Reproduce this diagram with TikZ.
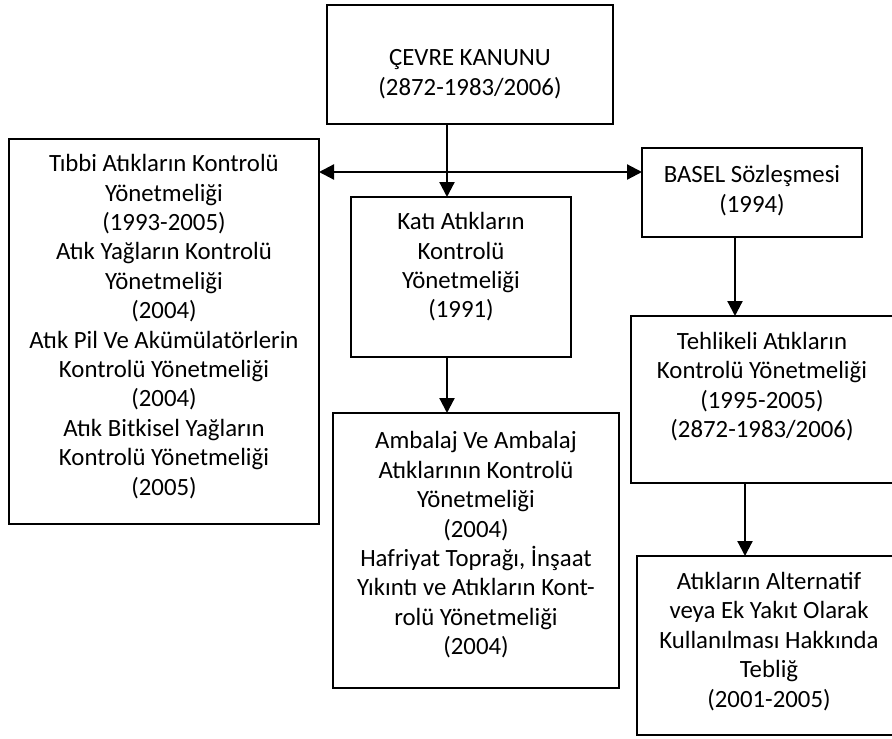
\documentclass[tikz,border=0pt]{standalone}
\usepackage{fontspec}
\setmainfont{Carlito}
\usetikzlibrary{arrows.meta, positioning}

\begin{document}
\begin{tikzpicture}[x=1pt, y=-1pt,
            % Style for the frames round each regulation
            box/.style={draw, line width=2pt, inner sep=0, outer sep=0},
            % Style for the texts inside the frames
            info/.style={font=\fontsize{24.8}{29.4}\selectfont, align=center, inner sep=0},
            % Style for the connectors
            >={Triangle[length=15pt, width=15pt]},
            arrow/.style={line width=2.2pt, ->}
        ]

        \useasboundingbox (0,0) rectangle (892,739);

        % --- The frames: name/centre x/centre y/width/height ---
        \foreach \name/\cx/\cy/\w/\h in {cevre/470/64.5/286/119, tibbi/164/331.5/310/385,
                kati/461/277/220/160, basel/752/192.5/220/89, tehlikeli/762/399.5/262/167,
                ambalaj/476/550.5/286/275, atik/769/645.5/264/179} {
            \node[box, minimum width=\w pt, minimum height=\h pt] (\name) at (\cx, \cy) {};
        }

        % --- The texts, placed on the frames ---
        \node[info] (cevre-txt) at (470, 74) {ÇEVRE KANUNU\\(2872-1983/2006)};
        \node[info] (tibbi-txt) at (164, 326.5) {Tıbbi Atıkların Kontrolü\\Yönetmeliği\\(1993-2005)\\
            Atık Yağların Kontrolü\\Yönetmeliği\\(2004)\\Atık Pil Ve Akümülatörlerin\\
            Kontrolü Yönetmeliği\\(2004)\\Atık Bitkisel Yağların\\Kontrolü Yönetmeliği\\(2005)};
        \node[info] (kati-txt) at (461, 267) {Katı Atıkların\\Kontrolü\\Yönetmeliği\\(1991)};
        \node[info] (basel-txt) at (752, 190.5) {BASEL Sözleşmesi\\(1994)};
        \node[info] (tehlikeli-txt) at (762, 386.5) {Tehlikeli Atıkların\\Kontrolü Yönetmeliği\\
            (1995-2005)\\(2872-1983/2006)};
        \node[info] (ambalaj-txt) at (476, 545) {Ambalaj Ve Ambalaj\\Atıklarının Kontrolü\\Yönetmeliği\\
            (2004)\\Hafriyat Toprağı, İnşaat\\Yıkıntı ve Atıkların Kont-\\rolü Yönetmeliği\\(2004)};
        \node[info] (atik-txt) at (769, 641.5) {Atıkların Alternatif\\veya Ek Yakıt Olarak\\
            Kullanılması Hakkında\\Tebliğ\\(2001-2005)};

        % --- Connectors ---
        \coordinate (hub) at (447, 172);
        \coordinate (baselx) at (735, 0);
        \coordinate (tehlikelix) at (745, 0);
        \draw[arrow] (cevre.south -| hub) -- (kati.north -| hub);
        \draw[arrow, <->] (tibbi.east |- hub) -- (basel.west |- hub);
        \draw[arrow] (kati.south -| hub) -- (ambalaj.north -| hub);
        \draw[arrow] (basel.south -| baselx) -- (tehlikeli.north -| baselx);
        \draw[arrow] (tehlikeli.south -| tehlikelix) -- (atik.north -| tehlikelix);

        \end{tikzpicture}
\end{document}
